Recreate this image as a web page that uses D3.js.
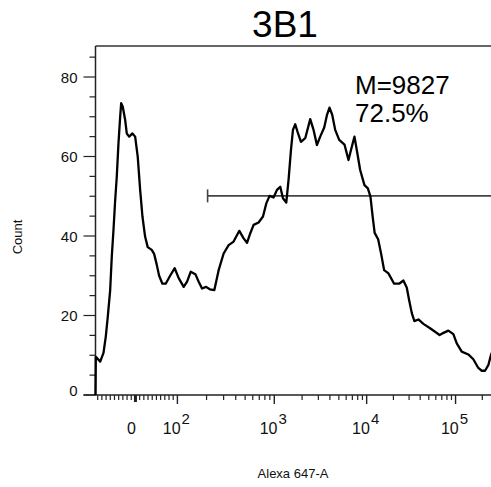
<!DOCTYPE html>
<html>
<head>
<meta charset="utf-8">
<script src="https://d3js.org/d3.v7.min.js"></script>
<style>
  body { margin: 0; background: #fff; }
  svg text { font-family: Arial, 'Liberation Sans', sans-serif; }
</style>
</head>
<body>
<div id="chart"></div>
<script>
const WIDTH = 491;
const HEIGHT = 487;

// histogram: display channel (0..400) vs count
const channels = [
  0, 0.3, 4.7, 8, 10.3, 12.3, 14.7, 16.3, 18, 19.7,
  21.3, 23, 24.7, 25.7, 27.3, 29.7, 31.3, 33.7, 37, 39.7,
  42.3, 44.7, 47, 49.7, 52.3, 56.3, 58.7, 61.3, 63.7, 67,
  70.3, 74.7, 79.3, 83.3, 88.3, 91.7, 95.3, 100, 103.3, 106.7,
  110.7, 114.5, 119, 123.3, 128.3, 133.3, 138.3, 144, 148.3, 151.7,
  155, 158.3, 163.3, 167.7, 171, 174.3, 178.3, 181.7, 185, 187.7,
  191, 193.3, 195.7, 197.7, 200, 202.3, 205.7, 210, 215, 218.3,
  221.7, 225, 229, 231.7, 234.3, 237, 240, 244, 249.3, 253.3,
  256.7, 259.3, 261.7, 265, 269.3, 272.7, 275.3, 277.5, 279.5, 283,
  286, 289, 293.3, 299, 304, 308.3, 311.7, 314, 316.7, 319.3,
  323.3, 328.3, 335, 340, 344.5, 347.3, 353.3, 358.3, 361.7, 366.7,
  373.3, 378.3, 383.3, 386.7, 390, 393.3, 396, 399
];
const counts = [
  0, 9.6, 8.4, 10.6, 14.7, 19.7, 26.4, 34.8, 41.5, 49,
  54.9, 63.3, 70, 73.4, 72.5, 69.2, 65.8, 65, 65.8, 65,
  59.9, 51.6, 44.9, 39.8, 37.2, 36.5, 35.5, 32.8, 30, 28,
  28, 30, 31.9, 29.4, 27.2, 28.5, 31, 30.4, 28.5, 26.8,
  27.2, 26.6, 26.4, 31.4, 35.6, 37.7, 38.6, 41.3, 39.4, 38.3,
  40.7, 42.8, 43.4, 44.9, 48.2, 50.1, 49.7, 51.6, 52.4, 49.5,
  48.4, 54.1, 61.6, 66.7, 68.1, 66.2, 63.7, 64.6, 69.4, 66.7,
  62.9, 65, 67.3, 70.4, 72.3, 70.5, 66.7, 64.2, 63, 59.1,
  62.5, 65, 61.5, 56.6, 52.8, 52, 49.9, 44.9, 40.8, 39.2,
  35.5, 31.4, 30.6, 28, 28, 28.8, 27, 23.9, 20.6, 18.6,
  19, 17.9, 16.8, 15.9, 15.1, 15.5, 16.2, 15.3, 13, 10.9,
  10.2, 9, 6.8, 6.1, 6.1, 7.5, 10.1, 12
];

const yTicks = [0, 20, 40, 60, 80];
const xMajor = [0, 2, 3, 4, 5];           // 0 and exponents of ten
const gate = {from: 205, level: 50.1};    // gate start (value) and drawn height (count)
const stats = ['M=9827', '72.5%'];
const TITLE = '3B1';
const X_TITLE = 'Alexa 647-A';
const Y_TITLE = 'Count';

const LEFT = 95.5, RIGHT = 495, TOP = 46, BOTTOM = 395;

const svg = d3.select('#chart').append('svg')
  .attr('width', WIDTH)
  .attr('height', HEIGHT);

const x = d3.scaleLinear().domain([0, 400]).range([LEFT, RIGHT]);
const y = d3.scaleLinear().domain([0, 87.8]).range([BOTTOM, TOP]);

// value -> display channel, linear round zero and log above 100
const linPart = d3.scaleLinear().domain([-100, 100]).range([-2, 82]);
const logPart = d3.scaleLinear().domain([2, 3, 4, 5]).range([82, 179, 271.5, 360.5]);
function chOf(v) {
  return Math.abs(v) <= 100 ? linPart(v) : logPart(Math.log10(v));
}

// frame: top line only, the axes do the rest
svg.append('line')
  .attr('x1', LEFT).attr('x2', WIDTH)
  .attr('y1', TOP).attr('y2', TOP)
  .style('stroke', '#333').style('stroke-width', 1.5);

// y axis
const gy = svg.append('g');
gy.append('line')
  .attr('x1', LEFT).attr('x2', LEFT)
  .attr('y1', TOP).attr('y2', BOTTOM)
  .style('stroke', '#222').style('stroke-width', 1.5);
d3.range(0, 90, 5).forEach(v => {
  const major = v % 20 === 0;
  gy.append('line')
    .attr('x1', LEFT - (major ? 12 : 6)).attr('x2', LEFT)
    .attr('y1', y(v)).attr('y2', y(v))
    .style('stroke', '#222').style('stroke-width', 1.2);
});
gy.selectAll('text.tick')
  .data(yTicks)
  .enter()
  .append('text')
  .attr('x', LEFT - 18)
  .attr('y', d => y(d) + (d === 0 ? 1 : 5.5))
  .attr('text-anchor', 'end')
  .style('font-size', '15px')
  .style('fill', '#111')
  .text(d => d);

// x axis
const gx = svg.append('g');
gx.append('line')
  .attr('x1', LEFT - 12).attr('x2', WIDTH)
  .attr('y1', BOTTOM).attr('y2', BOTTOM)
  .style('stroke', '#222').style('stroke-width', 1.5);

const minor = [];
d3.range(10, 100, 10).forEach(v => { minor.push(v); minor.push(-v); });
[2, 3, 4].forEach(e => d3.range(2, 10).forEach(m => minor.push(m * Math.pow(10, e))));
minor.push(2e5);

minor.forEach(v => {
  const px = x(chOf(v));
  if (px < LEFT || px > WIDTH) return;
  gx.append('line')
    .attr('x1', px).attr('x2', px)
    .attr('y1', BOTTOM).attr('y2', BOTTOM + 5)
    .style('stroke', '#222').style('stroke-width', 1.2);
});

xMajor.forEach(e => {
  const v = e === 0 ? 0 : Math.pow(10, e);
  const px = x(chOf(v));
  gx.append('line')
    .attr('x1', px).attr('x2', px)
    .attr('y1', BOTTOM).attr('y2', BOTTOM + (e === 0 ? 7 : 9))
    .style('stroke', '#222').style('stroke-width', e === 0 ? 3 : 1.4);
  if (e === 0) {
    gx.append('text')
      .attr('x', px - 4).attr('y', 434)
      .attr('text-anchor', 'middle')
      .style('font-size', '16px').style('fill', '#111')
      .text('0');
  } else {
    const t = gx.append('text')
      .attr('x', px - 1).attr('y', 434)
      .attr('text-anchor', 'middle')
      .style('font-size', '16px').style('fill', '#111');
    t.append('tspan').text('10');
    t.append('tspan').attr('dx', 1).attr('dy', -10).style('font-size', '15px').text(e);
  }
});

// gate marker
const gx0 = x(chOf(gate.from));
svg.append('line')
  .attr('x1', gx0).attr('x2', WIDTH)
  .attr('y1', y(gate.level)).attr('y2', y(gate.level))
  .style('stroke', '#444').style('stroke-width', 1.6);
svg.append('line')
  .attr('x1', gx0).attr('x2', gx0)
  .attr('y1', y(gate.level) - 6.5).attr('y2', y(gate.level) + 6.5)
  .style('stroke', '#444').style('stroke-width', 1.6);

// histogram curve
const line = d3.line()
  .x((d, i) => x(channels[i]))
  .y(d => y(d));
svg.append('path')
  .datum(counts)
  .attr('d', line)
  .style('fill', 'none')
  .style('stroke', '#000')
  .style('stroke-width', 2.3)
  .style('stroke-linejoin', 'round');

// stats label
svg.selectAll('text.stat')
  .data(stats)
  .enter()
  .append('text')
  .attr('x', 355)
  .attr('y', (d, i) => 93.5 + i * 28.5)
  .style('font-size', '26px')
  .style('fill', '#000')
  .text(d => d);

// titles
svg.append('text')
  .attr('x', 285).attr('y', 37)
  .attr('text-anchor', 'middle')
  .style('font-size', '37px').style('fill', '#000')
  .text(TITLE);
svg.append('text')
  .attr('x', 293).attr('y', 478)
  .attr('text-anchor', 'middle')
  .style('font-size', '13px').style('fill', '#111')
  .text(X_TITLE);
svg.append('text')
  .attr('transform', 'translate(22,237) rotate(-90)')
  .attr('text-anchor', 'middle')
  .style('font-size', '13px').style('fill', '#111')
  .text(Y_TITLE);
</script>
</body>
</html>
